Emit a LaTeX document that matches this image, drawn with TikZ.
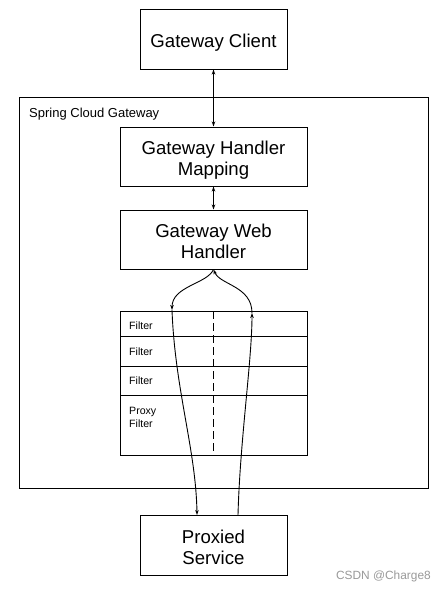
\documentclass[tikz,border=0pt]{standalone}
\usepackage{fontspec}
\setmainfont{Liberation Sans}
\usetikzlibrary{arrows.meta}
\begin{document}
\begin{tikzpicture}[x=1pt,y=-1pt,
  box/.style={draw=black,line width=1pt,fill=white,inner sep=0pt},
  btext/.style={inner sep=0pt,align=center,text depth=0pt,font=\fontsize{18.6}{21}\selectfont},
  row/.style={draw=black,line width=1pt,minimum width=187pt,inner sep=0pt,anchor=north},
  flab/.style={anchor=west,inner sep=0pt,align=left,font=\fontsize{10.6}{13}\selectfont},
  conn/.style={line width=0.9pt,draw=black},
  tip/.style={-{Stealth[length=5pt,width=3.5pt]}},
  both/.style={{Stealth[length=5pt,width=3.5pt]}-{Stealth[length=5pt,width=3.5pt]}}]
\useasboundingbox (0,0) rectangle (446,592);
% outer container
\node[draw=black,line width=1pt,minimum width=409pt,minimum height=391pt,inner sep=0pt] (outer) at (223.5,292.5) {};
\node[anchor=west,inner sep=0pt,font=\fontsize{13}{15}\selectfont] (sct) at (29,114) {Spring Cloud Gateway};
% boxes
\node[box,minimum width=147pt,minimum height=60pt] (client) at (213.5,39) {};
\node[box,minimum width=187pt,minimum height=59pt] (map) at (213.5,156.5) {};
\node[box,minimum width=187pt,minimum height=59pt] (web) at (213.5,239.5) {};
\node[box,minimum width=147pt,minimum height=60pt] (proxied) at (213.5,545) {};
\node[btext] (clientt) at ([yshift=-2pt]client.center) {Gateway Client};
\node[btext] (mapt) at ([yshift=-2pt]map.center) {Gateway Handler\\Mapping};
\node[btext] (webt) at ([yshift=-2pt]web.center) {Gateway Web\\Handler};
\node[btext] (proxiedt) at ([yshift=-2pt]proxied.center) {Proxied\\Service};
% filter table
\node[row,minimum height=25pt] (f1) at (213.5,311) {};
\node[row,minimum height=30pt] (f2) at (213.5,336) {};
\node[row,minimum height=29pt] (f3) at (213.5,366) {};
\node[row,minimum height=60pt] (f4) at (213.5,395) {};
\node[flab] (t1) at (129,326) {Filter};
\node[flab] (t2) at (129,352) {Filter};
\node[flab] (t3) at (129,381) {Filter};
\node[flab] (t4) at (129,417.5) {Proxy\\Filter};
\draw[line width=1pt,dash pattern=on 8pt off 4pt] (f1.north) -- (f4.south);
% vertical arrows
\draw[conn,both] (client.south) -- (map.north);
\draw[conn,both] (map.south) -- (web.north);
% request / response curves
\coordinate (L1) at (172,310);
\coordinate (R1) at (252,313);
\coordinate (L2) at (197,515);
\coordinate (R2) at (238,515);
\draw[conn,tip] (web.south) .. controls (207,284) and (172,286) .. (L1);
\draw[conn,tip] (R1) .. controls (252,286) and (220,285) .. (web.south);
\draw[conn,tip] (L1) .. controls (175,390) and (196,450) .. (L2);
\draw[conn,tip] (R2) .. controls (240,440) and (252,360) .. (R1);
% watermark
\node[anchor=east,inner sep=0pt,text=black!40,font=\fontsize{11.9}{14}\selectfont] (wm) at (431,576) {CSDN @Charge8};
\end{tikzpicture}
\end{document}
